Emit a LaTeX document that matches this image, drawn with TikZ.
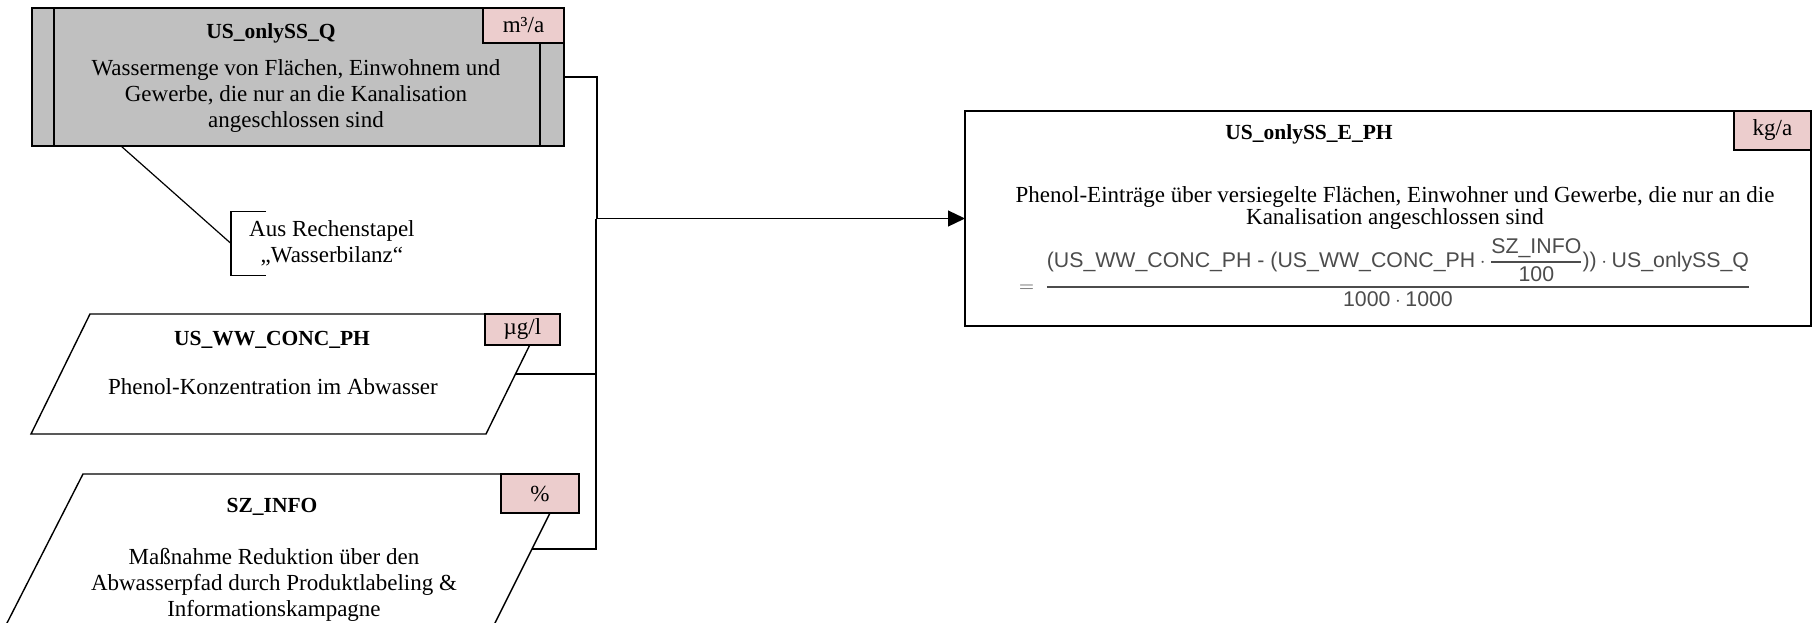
\documentclass[tikz,border=0pt]{standalone}
\usepackage{amsmath}
\usepackage{fontspec}
\setmainfont{Liberation Serif}
\newfontfamily\formelfont{Liberation Sans}
\usepackage{xcolor}
\usetikzlibrary{arrows.meta, positioning, calc}
\definecolor{grau}{RGB}{192,192,192}
\definecolor{einheit}{RGB}{236,205,205}

\begin{document}
\begin{tikzpicture}[x=1pt, y=-1pt,
    box/.style={draw, line width=1.4pt, inner sep=0pt, outer sep=0pt},
    unitbox/.style={box, fill=einheit, font=\fontsize{23}{26}\selectfont},
    titel/.style={font=\bfseries\fontsize{21.5}{25}\selectfont},
    beschr/.style={align=center, font=\fontsize{23}{26}\selectfont},
    link/.style={line width=1.2pt},
    pfeil/.style={link, -{Triangle[length=17pt, width=16pt]}}]
    \useasboundingbox (0,0) rectangle (1812,623);

    % Eingang aus Wasserbilanz
    \node[box, fill=grau, minimum width=532pt, minimum height=138pt] (wasser) at (298,77) {};
    \node[unitbox, anchor=north east, minimum width=81pt, minimum height=35pt] (qeinheit) at (wasser.north east) {m³/a};
    \draw[box] ([xshift=22pt]wasser.north west) -- ([xshift=22pt]wasser.south west);
    \draw[box] ([xshift=-24pt]wasser.south east) -- ([xshift=-24pt]wasser.south east |- qeinheit.south);
    \node[titel] (wasserT) at (271,33) {US\_onlySS\_Q};
    \node[beschr] (wasserB) at (296,96) {Wassermenge von Flächen, Einwohnem und\\Gewerbe, die nur an die Kanalisation\\angeschlossen sind};

    % Kommentar
    \node[beschr, anchor=west, inner xsep=18pt, minimum height=63pt] (quelle) at (231,243.5) {Aus Rechenstapel\\„Wasserbilanz“};
    \draw[link] ([xshift=35pt]quelle.north west) -- (quelle.north west) -- (quelle.south west) -- ([xshift=35pt]quelle.south west);
    \draw[link] ([xshift=-177pt]wasser.south) -- (quelle.west);

    % Parameter
    \draw[box] (31,434) -- (486,434) -- (545,314) -- (90,314) -- cycle;
    \coordinate (ww) at ($(486,434)!0.5!(545,314)$);
    \node[unitbox, minimum width=75pt, minimum height=31pt] (weinheit) at (522.5,329.5) {µg/l};
    \node[titel] (wwT) at (272,340) {US\_WW\_CONC\_PH};
    \node[beschr] (wwB) at (273,387) {Phenol-Konzentration im Abwasser};

    \draw[box] (6.5,624) -- (494.5,624) -- (569.5,474) -- (83,474) -- cycle;
    \coordinate (sz) at ($(494.5,624)!0.5!(569.5,474)$);
    \node[unitbox, minimum width=78pt, minimum height=39pt] (seinheit) at (540,493.5) {\%};
    \node[titel] (szT) at (272,507) {SZ\_INFO};
    \node[beschr] (szB) at (274,585) {Maßnahme Reduktion über den\\Abwasserpfad durch Produktlabeling \&\\Informationskampagne};

    % Ergebnis
    \node[box, minimum width=846pt, minimum height=215pt] (eintrag) at (1388,218.5) {};
    \node[unitbox, anchor=north east, minimum width=77pt, minimum height=39pt] (eeinheit) at (eintrag.north east) {kg/a};
    \node[titel] (eintragT) at (1309,134) {US\_onlySS\_E\_PH};
    \node[beschr, font=\fontsize{23}{18}\selectfont] (eintragB) at (1395,208) {Phenol-Einträge über versiegelte Flächen, Einwohner und Gewerbe, die nur an die\\Kanalisation angeschlossen sind};
    \node[anchor=base west, inner sep=0pt, text=black!70, font=\formelfont\fontsize{21.3}{24}\selectfont] (formel) at (1019,292)
        {$=\;\genfrac{}{}{1.5pt}{0}{\text{(US\_WW\_CONC\_PH - (US\_WW\_CONC\_PH}\cdot\genfrac{}{}{1.2pt}{0}{\text{SZ\_INFO}}{\text{100}}\text{))}\cdot\text{US\_onlySS\_Q}}{\text{1000}\cdot\text{1000}}$};

    % Verbindungen
    \path (eintrag.west) ++(-368pt,0) coordinate (bus);
    \draw[pfeil] (wasser.east) -| (bus) -- (eintrag.west);
    \draw[link] (ww) -| ([xshift=-1pt]bus);
    \draw[link] (sz) -| ([xshift=-1pt]bus);
\end{tikzpicture}
\end{document}
